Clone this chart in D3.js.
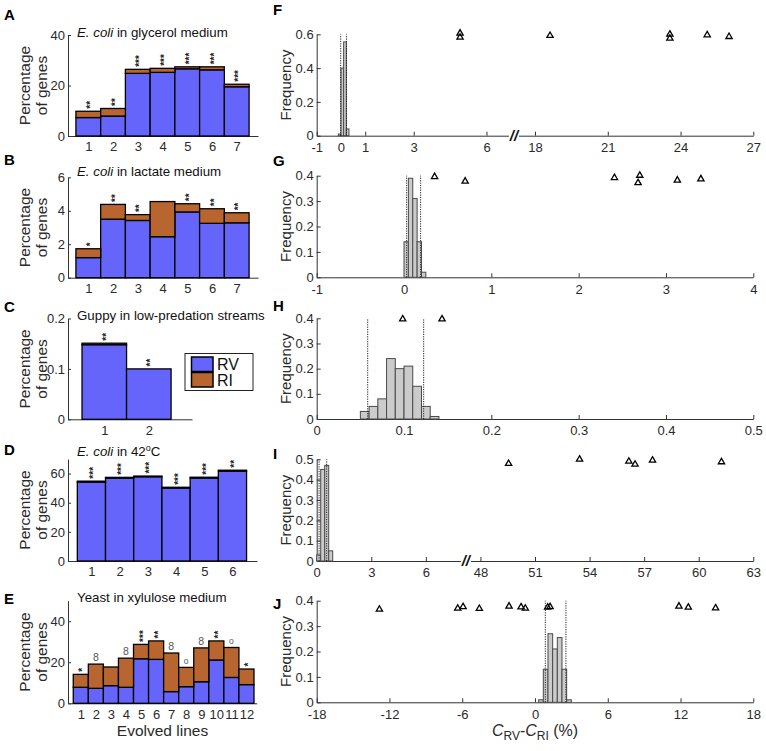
<!DOCTYPE html>
<html><head><meta charset="utf-8">
<script src="https://cdn.jsdelivr.net/npm/d3@7"></script>
<style>body{margin:0;background:#fff}svg{display:block}text{font-family:"Liberation Sans",Arial,Helvetica,sans-serif}</style>
</head><body><svg id="c" width="766" height="751"></svg>
<script>
// ---------- DATA ----------
const linesA = [1,2,3,4,5,6,7];
const rvA = [7.3, 7.9, 24.8, 25.2, 26.6, 26.2, 19.5];
const riA = [2.5, 3.0, 1.6, 1.6, 0.8, 1.2, 1.0];
const sigA = ["**","**","***","***","***","***","***"];

const linesB = [1,2,3,4,5,6,7];
const rvB = [1.2, 3.5, 3.42, 2.45, 3.93, 3.25, 3.28];
const riB = [0.53, 0.88, 0.35, 2.1, 0.49, 0.87, 0.6];
const sigB = ["*","**","**","","**","**","**"];

const linesC = [1,2];
const rvC = [0.148, 0.1];
const riC = [0.003, 0];
const sigC = ["**","**"];

const linesD = [1,2,3,4,5,6];
const rvD = [54.2, 56.9, 57.8, 50.1, 56.9, 61.7];
const riD = [0.6, 0.5, 0.5, 0.5, 0.6, 0.6];
const sigD = ["***","***","***","***","***","**"];

const linesE = [1,2,3,4,5,6,7,8,9,10,11,12];
const rvE = [7.8, 7.3, 8.6, 7.8, 21.7, 21.4, 5.7, 8.1, 10.5, 21.1, 12.6, 9.1];
const riE = [6.3, 11.8, 9.1, 14.2, 7.0, 9.0, 18.8, 9.4, 16.5, 9.3, 14.6, 7.6];
const sigE = ["*","8","","8","***","**","8","o","8","**","o","*"];

const ticksA = [0,20,40], ticksB = [0,2,4,6], ticksC = [0,0.1,0.2], ticksD = [0,20,40,60], ticksE = [0,20,40];

// histograms (bin start, bin width, frequencies), confidence lines, observed triangles
const binF = {start:-0.11, width:0.11}; const freqF = [0.01, 0.40, 0.555, 0.04];
const ciF = [-0.01, 0.23];
const triFx = [4.91, 4.91, 18.62, 23.56, 23.56, 25.1, 26.0];
const triFy = [0.606, 0.582, 0.592, 0.60, 0.576, 0.596, 0.586];
const ticksFx = [-1,0,1,3,6,18,21,24,27]; const ticksFy = [0,0.2,0.4,0.6];

const binG = {start:0, width:0.05}; const freqG = [0.14, 0.39, 0.31, 0.14, 0.02];
const ciG = [0.03, 0.19];
const triGx = [0.35, 0.70, 2.41, 2.70, 2.68, 3.13, 3.40];
const triGy = [0.396, 0.378, 0.392, 0.401, 0.372, 0.382, 0.387];
const ticksGx = [-1,0,1,2,3,4]; const ticksGy = [0,0.1,0.2,0.3,0.4];

const binH = {start:0.05, width:0.01}; const freqH = [0.03, 0.05, 0.08, 0.24, 0.20, 0.21, 0.13, 0.05, 0.01];
const ciH = [0.0584, 0.1225];
const triHx = [0.0985, 0.1435];
const triHy = [0.397, 0.397];
const ticksHx = [0,0.1,0.2,0.3,0.4,0.5]; const ticksHy = [0,0.1,0.2,0.3,0.4];

const binI = {start:0, width:0.22}; const freqI = [0.03, 0.45, 0.47, 0.05];
const ciI = [0.13, 0.55];
const triIx = [49.55, 53.45, 56.16, 56.5, 57.46, 61.25];
const triIy = [0.479, 0.5, 0.49, 0.475, 0.495, 0.487];
const ticksIx = [0,3,6,48,51,54,57,60,63]; const ticksIy = [0,0.1,0.2,0.3,0.4,0.5];

const binJ = {start:0.3, width:0.385}; const freqJ = [0.01, 0.13, 0.27, 0.21, 0.255, 0.13, 0.01];
const ciJ = [0.85, 2.55];
const triJx = [-12.83, -6.37, -5.93, -4.59, -2.14, -1.15, -0.80, 1.04, 1.24, 11.87, 12.64, 14.89];
const triJy = [0.366, 0.37, 0.376, 0.369, 0.378, 0.375, 0.37, 0.374, 0.376, 0.378, 0.374, 0.371];
const ticksJx = [-18,-12,-6,0,6,12,18]; const ticksJy = [0,0.1,0.2,0.3,0.4];

// ---------- DRAW ----------
const RV = "#6565fc", RI = "#b8652f", AX = "#333", TX = "#2a2a2a";
const svg = d3.select("#c");
svg.append("rect").attr("width",766).attr("height",751).attr("fill","#fff");

function styleAxis(g){
  g.selectAll("path.domain").attr("stroke",AX).attr("stroke-width",1);
  g.selectAll(".tick line").attr("stroke",AX);
  g.selectAll(".tick text").attr("fill",TX).style("font-size","13px");
}
function panelLetter(t,x,y){
  svg.append("text").attr("x",x).attr("y",y).text(t).style("font-weight","bold").style("font-size","15px").attr("fill","#000");
}

function leftPanel(c){
  const x = d3.scaleLinear().domain(c.xd).range([68, c.xr]);
  const y = d3.scaleLinear().domain(c.yd).range(c.yr);
  const g = svg.append("g");
  const xa = g.append("g").attr("transform",`translate(0,${c.yr[0]})`)
    .call(d3.axisBottom(x).tickValues(c.lines).tickSize(-3).tickSizeOuter(0).tickPadding(6).tickFormat(d3.format("d")));
  styleAxis(xa);
  const ya = g.append("g").attr("transform",`translate(68,0)`)
    .call(d3.axisLeft(y).tickValues(c.ticks).tickSize(-3).tickSizeOuter(0).tickPadding(3).tickFormat(d=>String(d)));
  styleAxis(ya);
  const bw = x(1)-x(0);
  g.selectAll("rect.rv").data(c.lines).join("rect").attr("class","rv")
    .attr("x",d=>x(d-0.5)).attr("width",bw)
    .attr("y",(d,i)=>y(c.rv[i])).attr("height",(d,i)=>y(0)-y(c.rv[i]))
    .attr("fill",RV).attr("stroke","#000").attr("stroke-width",1.3);
  g.selectAll("rect.ri").data(c.lines).join("rect").attr("class","ri")
    .attr("x",d=>x(d-0.5)).attr("width",bw)
    .attr("y",(d,i)=>y(c.rv[i]+c.ri[i])).attr("height",(d,i)=>y(c.rv[i])-y(c.rv[i]+c.ri[i]))
    .attr("fill",RI).attr("stroke","#000").attr("stroke-width",1.3);
  // significance marks
  const fs = 10;
  const isO = s => s==="8"||s==="o";
  g.selectAll("text.sig").data(c.lines).join("text").attr("class","sig")
    .attr("transform",(d,i)=>{
      const s=c.sig[i]; const top=y(c.rv[i]+c.ri[i]);
      if(isO(s)) return `translate(${x(d)},${top-3})`;
      return `translate(${x(d)+0.56*fs},${top-2.5}) rotate(-90)`;
    })
    .attr("text-anchor",(d,i)=>isO(c.sig[i])?"middle":"start")
    .style("font-size",(d,i)=>c.sig[i]==="8"?"10.5px":(c.sig[i]==="o"?"8.5px":fs+"px"))
    .style("font-weight",(d,i)=>isO(c.sig[i])?"normal":"bold")
    .attr("fill",(d,i)=>isO(c.sig[i])?"#555":"#222")
    .text((d,i)=>c.sig[i]);
  // y label
  const cy = (c.yr[0]+c.yr[1])/2;
  g.append("text").attr("transform",`translate(29.5,${cy}) rotate(-90)`).attr("text-anchor","middle")
    .style("font-size","15.5px").attr("fill",TX).text("Percentage");
  g.append("text").attr("transform",`translate(46.5,${cy}) rotate(-90)`).attr("text-anchor","middle")
    .style("font-size","15.5px").attr("fill",TX).text("of genes");
  // title
  const t = g.append("text").attr("x",77).attr("y",c.ty).style("font-size","13.3px").attr("fill","#111");
  c.title(t);
  return {x,y};
}

function rightPanel(c){
  const x0 = d3.scaleLinear().domain(c.xd).range([316.7, 753.3]);
  const tf = c.tf || (v=>v);
  const x = v => x0(tf(v));
  const y = d3.scaleLinear().domain(c.yd).range(c.yr);
  const g = svg.append("g");
  const labelOf = new Map(c.xt.map(v=>[tf(v), v]));
  const xa = g.append("g").attr("transform",`translate(0,${c.yr[0]})`)
    .call(d3.axisBottom(x0).tickValues(c.xt.map(tf)).tickSize(-4).tickSizeOuter(0).tickPadding(7)
      .tickFormat(v=>String(labelOf.get(v))));
  styleAxis(xa);
  const ya = g.append("g").attr("transform",`translate(316.7,0)`)
    .call(d3.axisLeft(y).tickValues(c.yt).tickSize(-4).tickSizeOuter(0).tickPadding(3).tickFormat(d=>String(d)));
  styleAxis(ya);
  // histogram
  g.selectAll("rect.h").data(c.freq).join("rect").attr("class","h")
    .attr("x",(d,i)=>x(c.bin.start+i*c.bin.width))
    .attr("width",(d,i)=>x(c.bin.start+(i+1)*c.bin.width)-x(c.bin.start+i*c.bin.width))
    .attr("y",d=>y(d)).attr("height",d=>y(0)-y(d))
    .attr("fill","#cbcbcb").attr("stroke","#4a4a4a").attr("stroke-width",1);
  // CI lines
  g.selectAll("line.ci").data(c.ci).join("line").attr("class","ci")
    .attr("x1",d=>x(d)).attr("x2",d=>x(d)).attr("y1",y(0)).attr("y2",y(c.yd[1]))
    .attr("stroke","#222").attr("stroke-width",1).attr("stroke-dasharray","1.2,1.2");
  // triangles
  const sym = d3.symbol().type(d3.symbolTriangle).size(17)();
  g.selectAll("path.tri").data(c.tx).join("path").attr("class","tri")
    .attr("transform",(d,i)=>`translate(${x(d)},${y(c.ty[i])})`).attr("d",sym)
    .attr("fill","none").attr("stroke","#000").attr("stroke-width",1.3);
  // break mark
  if(c.brk!==undefined){
    g.append("rect").attr("x",x0(c.brk)-5).attr("y",c.yr[0]-1).attr("width",10).attr("height",3).attr("fill","#fff");
    g.append("text").attr("x",x0(c.brk)).attr("y",c.yr[0]+5).attr("text-anchor","middle")
      .style("font-size","15px").style("font-weight","bold").style("font-style","italic").attr("fill","#111").text("//");
  }
  const cy = (c.yr[0]+c.yr[1])/2;
  g.append("text").attr("transform",`translate(290.5,${cy}) rotate(-90)`).attr("text-anchor","middle")
    .style("font-size","15px").attr("fill",TX).text("Frequency");
}

// Left panels
leftPanel({lines:linesA, rv:rvA, ri:riA, sig:sigA, ticks:ticksA, xd:[0.18,7.86], xr:258, yd:[0,40], yr:[136,35], ty:36.5,
  title:t=>{t.append("tspan").style("font-style","italic").text("E. coli"); t.append("tspan").text(" in glycerol medium");}});
leftPanel({lines:linesB, rv:rvB, ri:riB, sig:sigB, ticks:ticksB, xd:[0.18,7.86], xr:258, yd:[0,6], yr:[277.7,177.3], ty:176,
  title:t=>{t.append("tspan").style("font-style","italic").text("E. coli"); t.append("tspan").text(" in lactate medium");}});
leftPanel({lines:linesC, rv:rvC, ri:riC, sig:sigC, ticks:ticksC, xd:[0.185,2.97], xr:192, yd:[0,0.2], yr:[419.3,318.5], ty:320,
  title:t=>{t.text("Guppy in low-predation streams");}});
leftPanel({lines:linesD, rv:rvD, ri:riD, sig:sigD, ticks:ticksD, xd:[0.17,6.87], xr:257, yd:[0,70], yr:[561,459], ty:456,
  title:t=>{t.append("tspan").style("font-style","italic").text("E. coli"); t.append("tspan").text(" in 42");
    t.append("tspan").attr("dy",-5).style("font-size","9px").text("o"); t.append("tspan").attr("dy",5).text("C");}});
leftPanel({lines:linesE, rv:rvE, ri:riE, sig:sigE, ticks:ticksE, xd:[0.15,12.68], xr:256.7, yd:[0,50], yr:[703.3,600.7], ty:602,
  title:t=>{t.text("Yeast in xylulose medium");}});
svg.append("text").attr("x",162.5).attr("y",736).attr("text-anchor","middle").style("font-size","15.5px").attr("fill",TX).text("Evolved lines");

// Legend
const lg = svg.append("g");
lg.append("rect").attr("x",185).attr("y",353.5).attr("width",68).attr("height",37).attr("fill","#fff").attr("stroke","#222").attr("stroke-width",1);
lg.append("rect").attr("x",191.5).attr("y",357).attr("width",21.5).attr("height",14.5).attr("fill",RV).attr("stroke","#000").attr("stroke-width",1.5);
lg.append("rect").attr("x",191.5).attr("y",372.5).attr("width",21.5).attr("height",14.5).attr("fill",RI).attr("stroke","#000").attr("stroke-width",1.5);
lg.append("text").attr("x",217).attr("y",369.5).style("font-size","16px").attr("fill","#111").text("RV");
lg.append("text").attr("x",217).attr("y",385.5).style("font-size","16px").attr("fill","#111").text("RI");

// Right panels
rightPanel({xd:[-1,17], tf:v=>v>12?v-10:v, xt:ticksFx, yd:[0,0.6], yr:[135.7,34.3], yt:ticksFy, bin:binF, freq:freqF, ci:ciF, tx:triFx, ty:triFy, brk:7.13});
rightPanel({xd:[-1,4], xt:ticksGx, yd:[0,0.4], yr:[277.3,175.7], yt:ticksGy, bin:binG, freq:freqG, ci:ciG, tx:triGx, ty:triGy});
rightPanel({xd:[0,0.5], xt:ticksHx, yd:[0,0.4], yr:[419,318.3], yt:ticksHy, bin:binH, freq:freqH, ci:ciH, tx:triHx, ty:triHy});
rightPanel({xd:[0,24], tf:v=>v>24?v-39:v, xt:ticksIx, yd:[0,0.5], yr:[561,459.3], yt:ticksIy, bin:binI, freq:freqI, ci:ciI, tx:triIx, ty:triIy, brk:8.2});
rightPanel({xd:[-18,18], xt:ticksJx, yd:[0,0.4], yr:[702.3,600.7], yt:ticksJy, bin:binJ, freq:freqJ, ci:ciJ, tx:triJx, ty:triJy});

// J x label
const xl = svg.append("text").attr("x",535).attr("y",736).attr("text-anchor","middle").style("font-size","16px").attr("fill",TX);
xl.append("tspan").style("font-style","italic").text("C");
xl.append("tspan").attr("dy",4).style("font-size","12px").text("RV");
xl.append("tspan").attr("dy",-4).text("-");
xl.append("tspan").style("font-style","italic").text("C");
xl.append("tspan").attr("dy",4).style("font-size","12px").text("RI");
xl.append("tspan").attr("dy",-4).text(" (%)");

// Panel letters
[["A",4,20],["B",4,165],["C",4,312],["D",4,455],["E",4,604],["F",273,15],["G",273,166],["H",273,311],["I",273,459],["J",273,609]]
  .forEach(a=>panelLetter(a[0],a[1],a[2]));
</script></body></html>
